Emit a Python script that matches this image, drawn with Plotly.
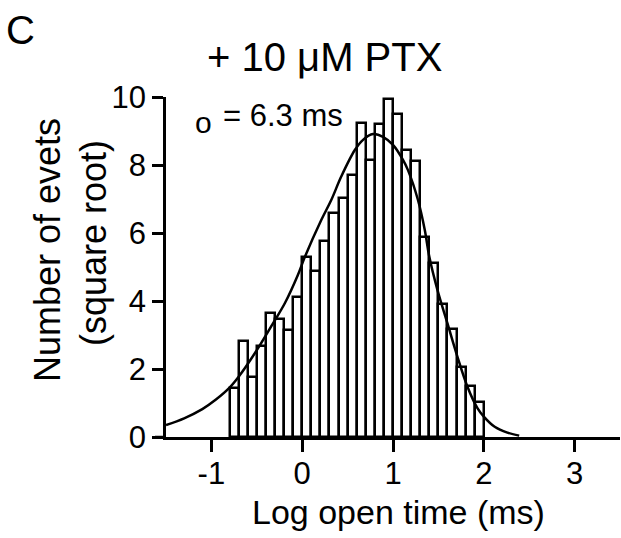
import plotly.graph_objects as go

# Histogram bins (log open time, ms) and square-root counts
bin_centers = [-0.75, -0.65, -0.55, -0.45, -0.35, -0.25, -0.15, -0.05,
               0.05, 0.15, 0.25, 0.35, 0.45, 0.55, 0.65, 0.75, 0.85, 0.95,
               1.05, 1.15, 1.25, 1.35, 1.45, 1.55, 1.65, 1.75, 1.85, 1.95]
sqrt_counts = [1.45, 2.83, 1.76, 2.68, 3.64, 3.47, 3.16, 4.12,
               5.28, 4.89, 5.77, 6.58, 7.04, 7.70, 9.24, 8.15, 9.20, 9.93,
               9.50, 8.44, 8.13, 5.87, 5.13, 3.91, 3.18, 2.07, 1.50, 1.04]
bin_width = 0.1

# Fitted curve
fit_x = [-1.5, -1.3, -1.1, -0.95, -0.8, -0.7, -0.52, -0.32, -0.19, -0.05, 0.03,
         0.21, 0.32, 0.43, 0.58, 0.67, 0.78, 0.89, 1.0, 1.11, 1.165, 1.275, 1.35,
         1.40, 1.49, 1.60, 1.71, 1.82, 1.93, 2.0, 2.12, 2.26, 2.39]
fit_y = [0.35, 0.55, 0.82, 1.10, 1.45, 1.77, 2.47, 3.35, 3.94, 4.75, 5.30,
         6.38, 6.97, 7.66, 8.44, 8.74, 8.91, 8.83, 8.59, 8.15, 7.85, 6.97, 6.09,
         5.30, 4.32, 3.34, 2.36, 1.48, 0.85, 0.60, 0.30, 0.13, 0.04]

x_ticks = [-1, 0, 1, 2, 3]
y_ticks = [0, 2, 4, 6, 8, 10]

FONT = "Liberation Sans, Arial, sans-serif"
LW = 2.5
W, H = 621, 538
L, T, PW, PH = 166, 97, 454, 340


def px(x):
    return (x - L) / PW


def py(y):
    return (T + PH - y) / PH


fig = go.Figure()
fig.add_trace(go.Bar(
    x=bin_centers, y=sqrt_counts, width=bin_width,
    marker=dict(color="white", line=dict(color="black", width=LW)),
    showlegend=False, hoverinfo="skip"))
fig.add_trace(go.Scatter(
    x=fit_x, y=fit_y, mode="lines", line=dict(color="black", width=LW, shape="spline"),
    showlegend=False, hoverinfo="skip", cliponaxis=False))

fig.update_layout(
    width=W, height=H,
    margin=dict(l=L, r=W - L - PW, t=T, b=H - T - PH),
    paper_bgcolor="white", plot_bgcolor="white",
    font=dict(family=FONT, color="black"),
    bargap=0,
    xaxis=dict(range=[-1.5, 3.5], tickvals=x_ticks, ticktext=[str(v) for v in x_ticks],
               showgrid=False, zeroline=False, showline=True, linecolor="black", linewidth=LW,
               ticks="outside", ticklen=12, tickwidth=LW, tickcolor="black",
               tickfont=dict(size=31, family=FONT), ticklabelstandoff=-5),
    yaxis=dict(range=[0, 10], tickvals=y_ticks, ticktext=[str(v) for v in y_ticks],
               showgrid=False, zeroline=False, showline=True, linecolor="black", linewidth=LW,
               ticks="outside", ticklen=11, tickwidth=LW, tickcolor="black",
               tickfont=dict(size=31, family=FONT)),
)

# small left extension of x-axis line
fig.add_shape(type="line", xref="paper", yref="y", x0=-11 / PW, x1=0, y0=0, y1=0,
              line=dict(color="black", width=LW))


def add_text(text, x, y, size, xanchor="center", yanchor="middle", angle=0):
    fig.add_annotation(text=text, xref="paper", yref="paper", x=x, y=y,
                       showarrow=False, xanchor=xanchor, yanchor=yanchor, textangle=angle,
                       font=dict(size=size, family=FONT, color="black"))


add_text("C", px(20), py(30), 40)
add_text("+ 10 μM PTX", px(324), py(57), 40)
add_text("Log open time (ms)", px(398), py(512), 34)
add_text("Number of evets", px(48), py(250), 36, angle=-90)
add_text("(square root)", px(93), py(243), 36, angle=-90)
add_text("o", px(203), py(123), 30)
add_text("= 6.3 ms", px(221), py(115), 31, xanchor="left")

fig.write_html("out.html", config={"displayModeBar": False},
               post_script="document.body.style.margin='0';")
